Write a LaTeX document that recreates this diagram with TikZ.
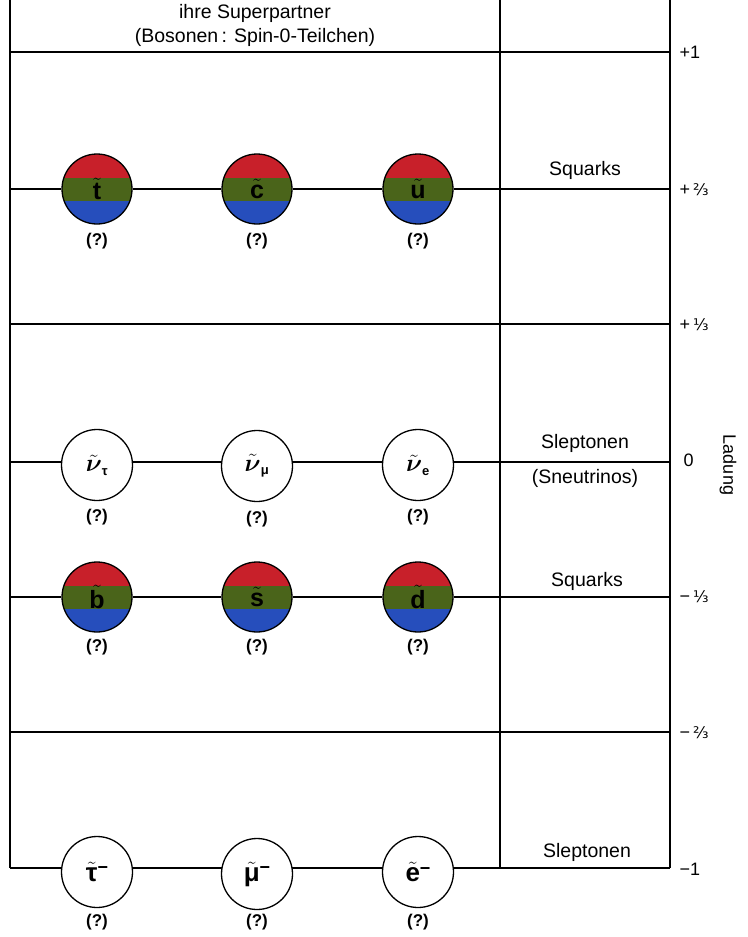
\documentclass[tikz,border=0pt]{standalone}
\usepackage{fontspec}
\usepackage{amsmath}
\setmainfont{Liberation Sans}
\newfontfamily\dejavu{DejaVu Sans}
\definecolor{qred}{RGB}{200,32,42}
\definecolor{qgreen}{RGB}{74,100,26}
\definecolor{qblue}{RGB}{38,78,188}
\newcommand{\sqk}[1]{$\tilde{\mbox{\bfseries #1}}$}
\newcommand{\snu}[1]{$\tilde{\boldsymbol{\nu}}_{\mbox{\fontsize{13}{13}\selectfont\bfseries #1}}$}
\newcommand{\slp}[1]{{\bfseries$\tilde{\mbox{\bfseries #1}}$\raisebox{0.55ex}{\fontsize{18}{18}\selectfont −}}}
\begin{document}
\begin{tikzpicture}[x=1pt,y=-1pt,
  frame/.style={line width=1.3pt},
  band/.style={line width=1.3pt},
  sq/.style={circle, draw, line width=1.3pt, minimum size=70pt, inner sep=0pt,
    font=\fontsize{25}{25}\selectfont\bfseries,
    path picture={
      \fill[qred] ([shift={(-40pt,11.5pt)}]path picture bounding box.center) rectangle ([shift={(40pt,40pt)}]path picture bounding box.center);
      \fill[qgreen] ([shift={(-40pt,-11.5pt)}]path picture bounding box.center) rectangle ([shift={(40pt,11.5pt)}]path picture bounding box.center);
      \fill[qblue] ([shift={(-40pt,-40pt)}]path picture bounding box.center) rectangle ([shift={(40pt,-11.5pt)}]path picture bounding box.center);
    }},
  sl/.style={circle, draw, fill=white, line width=1.3pt, minimum size=71pt, inner sep=0pt,
    font=\fontsize{26}{26}\selectfont},
  nu/.style={sl, font=\fontsize{31}{31}\selectfont},
  qm/.style={font=\fontsize{17}{17}\selectfont\bfseries},
  lab/.style={font=\fontsize{19.5}{24}\selectfont, align=center},
  chg/.style={anchor=west, font=\fontsize{18}{18}\selectfont}
]
\useasboundingbox (0,0) rectangle (747,937);

% frame
\coordinate (LT) at (10,0);   \coordinate (LB) at (10,868);
\coordinate (MT) at (500,0);  \coordinate (MB) at (500,868);
\coordinate (RT) at (670,0);  \coordinate (RB) at (670,868);
\draw[frame] (LT) -- (LB);
\draw[frame] (MT) -- (MB);
\draw[frame] (RT) -- (RB);

% charge levels
\foreach \i/\y in {1/52,2/189,3/324,4/462,5/597,6/732,7/868}{
  \coordinate (L\i) at (10,\y);
  \coordinate (R\i) at (670,\y);
}
\draw[band] (L1) -- (R1);
\draw[band] (L3) -- (R3);
\draw[band] (L6) -- (R6);
\draw[band] (L7) -- (R7);

% header
\node[lab] (head) at (255,25) {ihre Superpartner\\(Bosonen\,: Spin-0-Teilchen)};

% up-type squarks
\node[sq] (st) at (97,189) {\sqk{t}};
\node[sq] (sc) at (257,189) {\sqk{c}};
\node[sq] (su) at (418,189) {\sqk{u}};
\draw[band] (L2) -- (st) -- (sc) -- (su) -- (R2);

% sneutrinos
\node[nu] (nt) at (97,465) {\snu{τ}};
\node[nu] (nm) at (257,466) {\snu{μ}};
\node[nu] (ne) at (418,465) {\snu{e}};
\draw[band] (L4) -- (L4 -| nt.west);
\draw[band] (nt.east |- L4) -- (nm.west |- L4);
\draw[band] (nm.east |- L4) -- (ne.west |- L4);
\draw[band] (ne.east |- L4) -- (R4);

% down-type squarks
\node[sq] (sb) at (97,597) {\sqk{b}};
\node[sq] (ss) at (257,597) {\sqk{s}};
\node[sq] (sd) at (418,597) {\sqk{d}};
\draw[band] (L5) -- (sb) -- (ss) -- (sd) -- (R5);

% charged sleptons
\node[sl] (tau) at (97,872) {\slp{τ}};
\node[sl] (mu) at (257,874) {\slp{μ}};
\node[sl] (el) at (418,872) {\slp{e}};

% question marks
\foreach \n/\x/\y in {q1/97/241,q2/257/241,q3/418/241,
                      q4/97/517,q5/257/519,q6/418/517,
                      q7/97/647,q8/257/647,q9/418/647,
                      q10/97/922,q11/257/922,q12/418/922}{
  \node[qm] (\n) at (\x,\y) {(?)};
}

% category labels
\node[lab] (squ1) at (585,170) {Squarks};
\node[lab] (slep1) at (585,443) {Sleptonen};
\node[lab] (sneu) at (585,478) {(Sneutrinos)};
\node[lab] (squ2) at (587,581) {Squarks};
\node[lab] (slep2) at (587,852) {Sleptonen};

% charges
\node[chg] (c1) at (676,52) {+1};
\node[chg] (c2) at (676,190) {+\,{\dejavu\fontsize{16}{16}\selectfont ⅔}};
\node[chg] (c3) at (676,325) {+\,{\dejavu\fontsize{16}{16}\selectfont ⅓}};
\node[chg] (c4) at (680,460) {0};
\node[chg] (c5) at (676,597) {−\,{\dejavu\fontsize{16}{16}\selectfont ⅓}};
\node[chg] (c6) at (676,733) {−\,{\dejavu\fontsize{16}{16}\selectfont ⅔}};
\node[chg] (c7) at (676,869) {−1};
\node[font=\fontsize{18}{18}\selectfont, rotate=-90] (ladung) at (728,465) {Ladung};
\end{tikzpicture}
\end{document}
